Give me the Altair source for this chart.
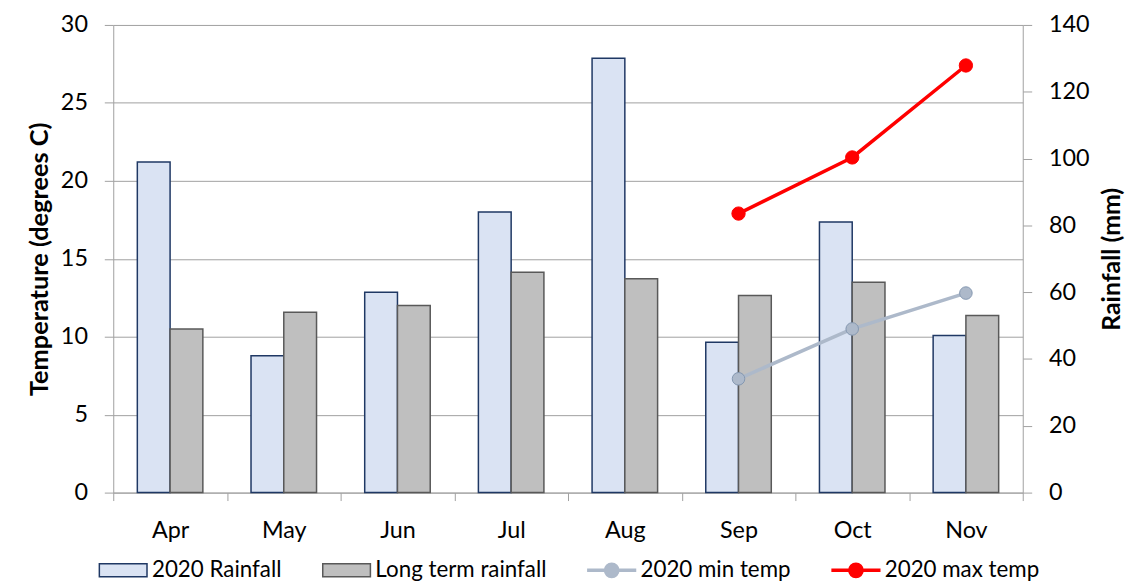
import altair as alt
import pandas as pd

# ---- data ----
months = ["Apr", "May", "Jun", "Jul", "Aug", "Sep", "Oct", "Nov"]
rain_2020 = [99, 41, 60, 84, 130, 45, 81, 47]
rain_long_term = [49, 54, 56, 66, 64, 59, 63, 53]
temp_months = ["Sep", "Oct", "Nov"]
min_temp_2020 = [7.3, 10.5, 12.8]
max_temp_2020 = [17.9, 21.5, 27.4]
series = ["2020 Rainfall", "Long term rainfall", "2020 min temp", "2020 max temp"]
temp_ticks = [0, 5, 10, 15, 20, 25, 30]
rain_ticks = [0, 20, 40, 60, 80, 100, 120, 140]

rain_df = pd.DataFrame({
    "month": months * 2,
    "series": [series[0]] * len(months) + [series[1]] * len(months),
    "value": rain_2020 + rain_long_term,
})
temp_df = pd.DataFrame({
    "month": temp_months * 2,
    "series": [series[2]] * len(temp_months) + [series[3]] * len(temp_months),
    "temp": min_temp_2020 + max_temp_2020,
})

FONT = "Lato"
AXIS_GREY = "#A0A0A0"

fill_scale = alt.Scale(domain=series, range=["#DAE3F3", "#BFBFBF", "#ADB9CA", "#FF0000"])
stroke_scale = alt.Scale(domain=series, range=["#1F3864", "#595959", "#ADB9CA", "#FF0000"])

# legend symbols: a flat box for the bar series, a line with a dot for the line series
RECT = "M-1,-0.27H1V0.27H-1Z"
LINEDOT = "M-1,-0.04H1V0.04H-1ZM0.3,0A0.3,0.3,0,1,1,-0.3,0A0.3,0.3,0,1,1,0.3,0Z"
is_bar = f"(datum.value == '{series[0]}' || datum.value == '{series[1]}')"

legend = alt.Legend(
    title=None, orient="none", direction="horizontal",
    legendX=-15, legendY=524, padding=0,
    symbolSize=2304, symbolStrokeWidth=1.5,
    labelFont=FONT, labelFontSize=22.5, labelColor="#000000",
    labelOffset=4, labelLimit=400, columnPadding=38,
    symbolType={"expr": f"{is_bar} ? '{RECT}' : '{LINEDOT}'"},
)

x_enc = alt.X(
    "month:N",
    scale=alt.Scale(domain=months, paddingInner=0, paddingOuter=0),
    axis=alt.Axis(title=None, labelAngle=0, tickBand="extent", tickSize=8,
                  labelPadding=18, labelFont=FONT, labelFontSize=23.5,
                  labelColor="#000000", domainColor=AXIS_GREY, tickColor=AXIS_GREY,
                  grid=False),
)

bars = alt.Chart(rain_df).mark_bar(strokeWidth=1.5).encode(
    x=x_enc,
    xOffset=alt.XOffset("series:N", scale=alt.Scale(domain=series[:2], paddingInner=0, paddingOuter=0.735)),
    y=alt.Y("value:Q", scale=alt.Scale(domain=[0, 140], nice=False),
            axis=alt.Axis(orient="right", values=rain_ticks, grid=False, title="Rainfall (mm)",
                          titleAngle=270, titleBaseline="top", titlePadding=11,
                          titleFont=FONT, titleFontSize=25, titleFontWeight="bold", titleColor="#000000",
                          labelFont=FONT, labelFontSize=23.5, labelColor="#000000", labelPadding=17,
                          tickSize=9, tickColor=AXIS_GREY, domainColor=AXIS_GREY)),
    fill=alt.Fill("series:N", scale=fill_scale, legend=legend),
    stroke=alt.Stroke("series:N", scale=stroke_scale, legend=legend),
)

y_temp = alt.Y("temp:Q", scale=alt.Scale(domain=[0, 30], nice=False),
               axis=alt.Axis(orient="left", values=temp_ticks, grid=True, gridColor=AXIS_GREY,
                             title="Temperature (degrees C)", titlePadding=8,
                             titleFont=FONT, titleFontSize=25.5, titleFontWeight="bold", titleColor="#000000",
                             labelFont=FONT, labelFontSize=23.5, labelColor="#000000", labelPadding=17,
                             tickSize=9, tickColor=AXIS_GREY, domainColor=AXIS_GREY))

lines = alt.Chart(temp_df).mark_line(strokeWidth=3.5).encode(
    x=x_enc, y=y_temp,
    stroke=alt.Stroke("series:N", scale=stroke_scale, legend=legend),
)
pts_min = alt.Chart(temp_df).transform_filter(f"datum.series == '{series[2]}'").mark_circle(
    size=160, opacity=1, stroke="#8497B0", strokeWidth=1).encode(
    x=x_enc, y=y_temp,
    fill=alt.Fill("series:N", scale=fill_scale, legend=legend),
)
pts_max = alt.Chart(temp_df).transform_filter(f"datum.series == '{series[3]}'").mark_circle(
    size=180, opacity=1, stroke="#FF0000", strokeWidth=1).encode(
    x=x_enc, y=y_temp,
    fill=alt.Fill("series:N", scale=fill_scale, legend=legend),
)

temp_layer = alt.layer(lines, pts_min, pts_max)

chart = alt.layer(bars, temp_layer).resolve_scale(y="independent").properties(
    width=916, height=471,
    autosize=alt.AutoSizeParams(type="none"),
    padding={"left": 106, "top": 15, "right": 105, "bottom": 93},
    background="white",
).configure_view(stroke=None)

chart.save("out.html", embed_options={"renderer": "svg", "actions": False})
